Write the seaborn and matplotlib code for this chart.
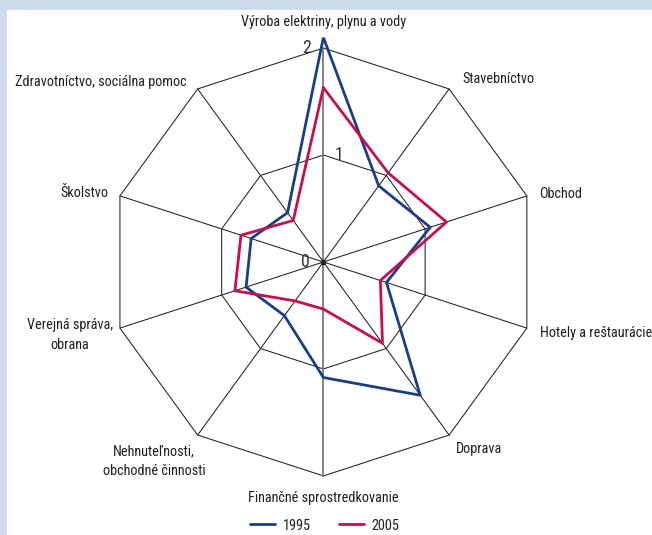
import numpy as np
import pandas as pd
import matplotlib
matplotlib.use("Agg")
import matplotlib.pyplot as plt
import seaborn as sns
from matplotlib import font_manager

# sector labels, clockwise from the top
sectors = ["Výroba elektriny, plynu a vody", "Stavebníctvo", "Obchod",
           "Hotely a reštaurácie", "Doprava", "Finančné sprostredkovanie",
           "Nehnuteľnosti,\nobchodné činnosti", "Verejná správa,\nobrana",
           "Školstvo", "Zdravotníctvo, sociálna pomoc"]
v1995 = [2.10, 0.88, 1.05, 0.62, 1.54, 1.08, 0.62, 0.76, 0.71, 0.57]
v2005 = [1.63, 1.03, 1.21, 0.56, 0.94, 0.44, 0.45, 0.87, 0.81, 0.48]
years = ["1995", "2005"]
rings = [1, 2]
ring_labels = ["0", "1", "2"]


def has_font(name):
    try:
        font_manager.findfont(font_manager.FontProperties(family=name),
                              fallback_to_default=False)
        return True
    except Exception:
        return False


# the original uses a condensed face; take the narrowest one we have
fsize = 10.3
for fam, size in [("Roboto Condensed", 10.3), ("Liberation Sans Narrow", 10.5),
                  ("Open Sans Condensed", 10.5), ("Liberation Sans", 9.5)]:
    if has_font(fam):
        family, fsize = fam, size
        break
else:
    family = "DejaVu Sans"

sns.set_theme(style="white")
plt.rcParams["font.family"] = [family, "DejaVu Sans"]
txt_col = "#231f20"

n = len(sectors)
theta = np.linspace(0, 2 * np.pi, n, endpoint=False)
closed = np.append(theta, theta[0] + 2 * np.pi)

rows = []
for yr, vals in zip(years, [v1995, v2005]):
    for t, v in zip(closed, vals + vals[:1]):
        rows.append({"theta": t, "value": v, "year": yr})
df = pd.DataFrame(rows)

fig = plt.figure(figsize=(6.52, 5.35), dpi=100)
fig.patch.set_facecolor("#cfdcec")
# white panel
fig.patches.append(plt.Rectangle((7 / 652, 0), 1, 1 - 10 / 535, transform=fig.transFigure,
                                 facecolor="white", edgecolor="none", zorder=-5))

ax = fig.add_axes([0.1515, 0.0903, 0.689, 0.84], projection="polar")
ax.set_facecolor("none")
ax.set_theta_zero_location("N")
ax.set_theta_direction(-1)
ax.set_ylim(0, 2.1)
ax.grid(False)
ax.spines["polar"].set_visible(False)
ax.set_xticks([])
ax.set_yticks([])

# decagon grid
for r in rings:
    ax.plot(closed, [r] * len(closed), color="#222222", lw=0.75, zorder=1)
for i, t in enumerate(theta):
    if i in (0, n // 2):
        ax.plot([t, t], [0, 2], color="#7a7a7a", lw=1.3, zorder=1)
    else:
        ax.plot([t, t], [0, 2], color="#222222", lw=0.75, zorder=1)
ax.plot([0], [0], "o", color="#222222", ms=3, zorder=2)

sns.lineplot(data=df, x="theta", y="value", hue="year", sort=False, estimator=None,
             palette=["#1b3d86", "#c4104c"], lw=2.0, ax=ax, zorder=3)
ax.set_xlabel("")
ax.set_ylabel("")

# sector labels
offs = [(0, 26, "center"), (13, 10, "left"), (12, 2, "left"), (13, -5, "left"),
        (7, -14, "left"), (0, -21.6, "center"), (-43.7, -26, "center"),
        (-50, -7, "center"), (-12, 3, "right"), (-11, 7, "right")]
for t, lab, (dx, dy, ha) in zip(theta, sectors, offs):
    ax.annotate(lab, xy=(t, 2), xytext=(dx, dy), textcoords="offset pixels",
                ha=ha, va="center", fontsize=fsize, color=txt_col,
                linespacing=1.5, annotation_clip=False)

# scale labels along the vertical axis
for r, lab, dx in zip([0, 1, 2], ring_labels, [-18, 16, -17]):
    ax.annotate(lab, xy=(0, r), xytext=(dx, 0), textcoords="offset pixels",
                ha="center", va="center", fontsize=fsize + 2.5, color="#333333",
                annotation_clip=False)

h, l = ax.get_legend_handles_labels()
ax.legend(h, l, loc="center", bbox_to_anchor=(325 / 652, 9.5 / 535),
          bbox_transform=fig.transFigure, ncol=2, frameon=False,
          handlelength=1.75, columnspacing=2.0, handletextpad=0.5,
          prop={"size": fsize})
for t in ax.get_legend().get_texts():
    t.set_color(txt_col)

fig.savefig("out.png", dpi=100, facecolor=fig.get_facecolor())
